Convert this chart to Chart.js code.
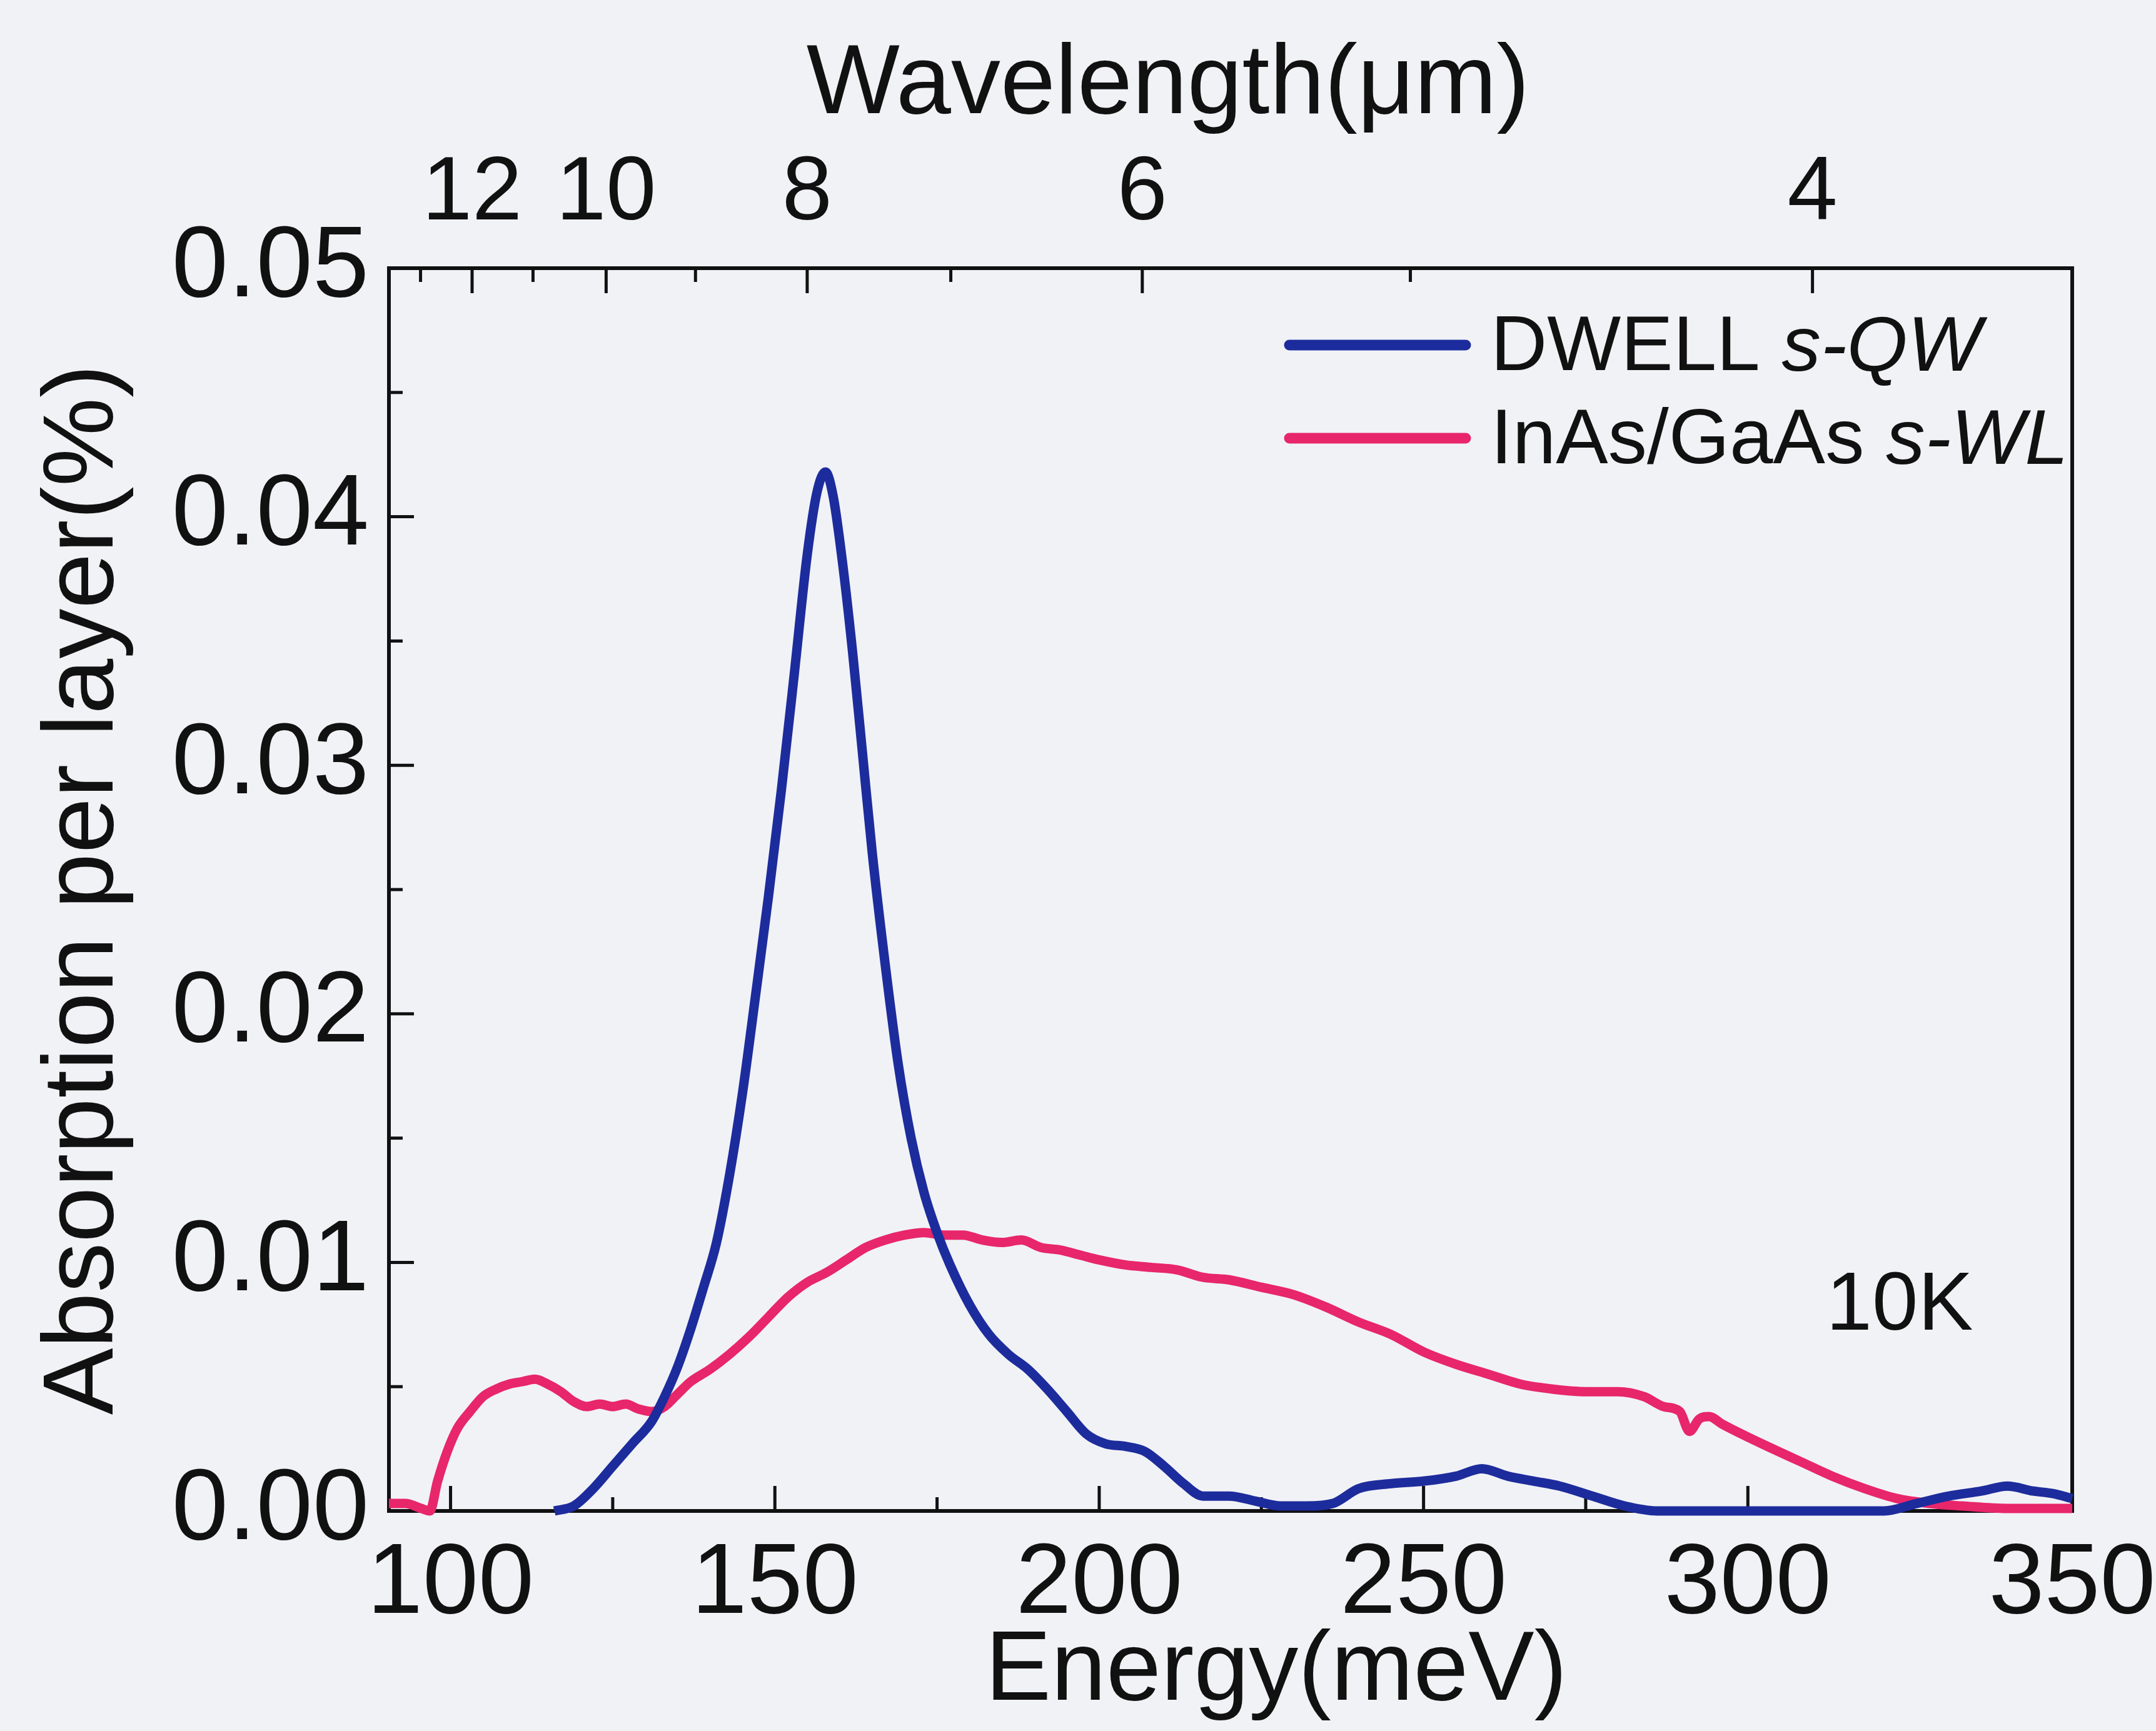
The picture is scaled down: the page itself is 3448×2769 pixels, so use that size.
<!DOCTYPE html>
<html>
<head>
<meta charset="utf-8">
<script src="https://cdn.jsdelivr.net/npm/chart.js@4.4.0/dist/chart.umd.min.js"></script>
<style>
  html, body { margin: 0; padding: 0; background: #f1f2f6; }
  #wrap { width: 3448px; height: 2769px; }
</style>
</head>
<body>
<div id="wrap"><canvas id="absChart" width="3448" height="2769"></canvas></div>
<script>
// DWELL s-QW absorption (energy in meV, absorption per layer in %)
const dwellEnergy = [116, 119, 122, 125, 128, 131, 133, 135, 137, 139, 141, 143, 145, 147, 149, 151, 153, 155, 156.5, 157.8,
  159, 160.5, 162, 163.5, 165, 167, 169, 171, 173, 175, 177, 180, 183, 186, 189, 192, 195, 198, 201, 204,
  207, 210, 213, 216, 220, 224, 228, 232, 236, 240, 245, 250, 255, 259, 263, 267, 271, 276, 281, 286,
  295, 305, 315, 321, 326, 331, 336, 340, 344, 347, 350];
const dwellAbs = [0.0000, 0.0002, 0.0009, 0.0018, 0.0027, 0.0036, 0.0046, 0.0058, 0.0073, 0.0090, 0.0108, 0.0135, 0.0168, 0.0207, 0.0247, 0.0290, 0.0337, 0.0385, 0.0410, 0.0418,
  0.0408, 0.0380, 0.0345, 0.0305, 0.0265, 0.0220, 0.0180, 0.0150, 0.0128, 0.0112, 0.0099, 0.0083, 0.0071, 0.0063, 0.0057, 0.0049, 0.0040, 0.0031, 0.0027, 0.0026,
  0.0024, 0.0018, 0.0011, 0.0006, 0.0006, 0.0004, 0.0002, 0.0002, 0.0003, 0.0009, 0.0011, 0.0012, 0.0014, 0.0017, 0.0014, 0.0012, 0.0010, 0.0006, 0.0002, 0.0000,
  0.0000, 0.0000, 0.0000, 0.0000, 0.0003, 0.0006, 0.0008, 0.0010, 0.0008, 0.0007, 0.0005];

// InAs/GaAs s-WL absorption
const wlEnergy = [90.5, 93, 95.5, 96.8, 98, 99.5, 101, 103, 105, 107, 109, 111, 113, 115, 117, 119, 121, 123, 125, 127,
  129, 131, 133, 135, 137, 140, 143, 146, 149, 152, 155, 158, 161, 164, 167, 170, 173, 176, 179, 182,
  185, 188, 191, 194, 197, 200, 204, 208, 212, 216, 220, 225, 230, 235, 240, 245, 250, 255, 260, 265,
  270, 275, 280, 284, 287, 289.5, 291, 292.5, 294, 296, 299, 303, 308, 313, 318, 323, 328, 333, 340, 345, 350];
const wlAbs = [0.0003, 0.0003, 0.0001, 0.0000, 0.0012, 0.0024, 0.0033, 0.0040, 0.0046, 0.0049, 0.0051, 0.0052, 0.0053, 0.0051, 0.0048, 0.0044, 0.0042, 0.0043, 0.0042, 0.0043,
  0.0041, 0.0040, 0.0042, 0.0047, 0.0052, 0.0057, 0.0063, 0.0070, 0.0078, 0.0086, 0.0092, 0.0096, 0.0101, 0.0106, 0.0109, 0.0111, 0.0112, 0.0111, 0.0111, 0.0109,
  0.0108, 0.0109, 0.0106, 0.0105, 0.0103, 0.0101, 0.0099, 0.0098, 0.0097, 0.0094, 0.0093, 0.0090, 0.0087, 0.0082, 0.0076, 0.0071, 0.0064, 0.0059, 0.0055, 0.0051,
  0.0049, 0.0048, 0.0048, 0.0046, 0.0042, 0.0040, 0.0032, 0.0037, 0.0038, 0.0035, 0.0031, 0.0026, 0.0020, 0.0014, 0.0009, 0.0005, 0.0003, 0.0002, 0.0001, 0.0001, 0.0001];

const seriesNames = ['DWELL ', 'InAs/GaAs '];
const seriesTags = ['s-QW', 's-WL'];
const seriesColors = ['#1d2c9c', '#e8266a'];

const energyTicks = [100, 150, 200, 250, 300, 350];
const energyMinorTicks = [125, 175, 225, 275, 325];
const absTicks = [0, 0.01, 0.02, 0.03, 0.04, 0.05];
const absMinorTicks = [0.005, 0.015, 0.025, 0.035, 0.045];
const wavelengthTicks = [12, 10, 8, 6, 4];
const wavelengthMinorTicks = [13, 11, 9, 7, 5];
const tempLabel = '10K';
const energyTitle = 'Energy(meV)';
const wavelengthTitle = 'Wavelength(μm)';

const HC = 1239.84; // meV * um
const FONT = "'Liberation Sans', Arial, sans-serif";

const pageBackground = {
  id: 'pageBackground',
  beforeDraw(chart) {
    const ctx = chart.ctx;
    ctx.save();
    ctx.fillStyle = '#f1f2f6';
    ctx.fillRect(0, 0, chart.width, chart.height);
    ctx.restore();
  }
};

// frame + inward tick marks on left, bottom and top
const frameTicks = {
  id: 'frameTicks',
  beforeDatasetsDraw(chart) {
    const {ctx, chartArea: a, scales} = chart;
    ctx.save();
    ctx.strokeStyle = '#111';
    ctx.lineWidth = 5;
    ctx.lineCap = 'butt';
    const tick = (x1, y1, x2, y2) => { ctx.beginPath(); ctx.moveTo(x1, y1); ctx.lineTo(x2, y2); ctx.stroke(); };
    energyTicks.forEach(v => { const x = scales.x.getPixelForValue(v); tick(x, a.bottom, x, a.bottom - 40); });
    energyMinorTicks.forEach(v => { const x = scales.x.getPixelForValue(v); tick(x, a.bottom, x, a.bottom - 22); });
    absTicks.forEach(v => { const y = scales.y.getPixelForValue(v); tick(a.left, y, a.left + 40, y); });
    absMinorTicks.forEach(v => { const y = scales.y.getPixelForValue(v); tick(a.left, y, a.left + 22, y); });
    wavelengthTicks.forEach(w => { const x = scales.x.getPixelForValue(HC / w); tick(x, a.top, x, a.top + 40); });
    wavelengthMinorTicks.forEach(w => { const x = scales.x.getPixelForValue(HC / w); tick(x, a.top, x, a.top + 22); });
    ctx.lineWidth = 6;
    ctx.strokeRect(a.left, a.top, a.right - a.left, a.bottom - a.top);
    ctx.restore();
  }
};

// legend inside the plot, the 10K note and the two x titles (placed off-centre like the original)
const annotations = {
  id: 'annotations',
  afterDraw(chart) {
    const {ctx, chartArea: a} = chart;
    const mid = (a.left + a.right) / 2;
    ctx.save();
    chart.data.datasets.forEach((ds, i) => {
      const y = a.top + 123 + i * 149;
      ctx.strokeStyle = ds.borderColor;
      ctx.lineWidth = 17;
      ctx.lineCap = 'round';
      ctx.beginPath();
      ctx.moveTo(a.right - 1252, y);
      ctx.lineTo(a.right - 970, y);
      ctx.stroke();
      ctx.fillStyle = '#111';
      ctx.textBaseline = 'middle';
      ctx.textAlign = 'left';
      let x = a.right - 930;
      ctx.font = `125px ${FONT}`;
      ctx.fillText(seriesNames[i], x, y + 6);
      x += ctx.measureText(seriesNames[i]).width;
      ctx.font = `italic 125px ${FONT}`;
      ctx.fillText(seriesTags[i], x, y + 6);
    });
    ctx.fillStyle = '#111';
    ctx.textAlign = 'center';
    ctx.textBaseline = 'middle';
    ctx.font = `132px ${FONT}`;
    ctx.fillText(tempLabel, a.right - 276, a.bottom - 326);
    ctx.font = `158px ${FONT}`;
    ctx.fillText(energyTitle, mid + 73, a.bottom + 258);
    ctx.fillText(wavelengthTitle, mid - 100, a.top - 292);
    ctx.restore();
  }
};

const makeSeries = (xs, ys) => xs.map((x, i) => ({x: x, y: ys[i]}));

new Chart(document.getElementById('absChart'), {
  type: 'line',
  data: {
    datasets: [
      {
        label: seriesNames[0] + seriesTags[0],
        data: makeSeries(dwellEnergy, dwellAbs),
        borderColor: seriesColors[0],
        borderWidth: 15,
        pointRadius: 0,
        cubicInterpolationMode: 'monotone',
        clip: false
      },
      {
        label: seriesNames[1] + seriesTags[1],
        data: makeSeries(wlEnergy, wlAbs),
        borderColor: seriesColors[1],
        borderWidth: 15,
        pointRadius: 0,
        cubicInterpolationMode: 'monotone',
        clip: false
      }
    ]
  },
  options: {
    responsive: false,
    animation: false,
    devicePixelRatio: 1,
    layout: { padding: { left: 0, right: 134, top: 0, bottom: 0 } },
    plugins: { legend: { display: false }, tooltip: { enabled: false } },
    scales: {
      x: {
        type: 'linear',
        position: 'bottom',
        min: 90.5,
        max: 350,
        grid: { display: false },
        border: { display: false },
        afterBuildTicks: scale => { scale.ticks = energyTicks.map(v => ({value: v})); },
        afterFit: scale => { scale.height = 352; scale.paddingLeft = 0; scale.paddingRight = 0; },
        ticks: {
          color: '#111',
          padding: 31,
          maxRotation: 0,
          autoSkip: false,
          font: { family: FONT, size: 160, lineHeight: 1 }
        }
      },
      x2: {
        type: 'linear',
        position: 'top',
        min: 90.5,
        max: 350,
        grid: { display: false },
        border: { display: false },
        afterBuildTicks: scale => { scale.ticks = wavelengthTicks.map(w => ({value: HC / w})); },
        afterFit: scale => { scale.height = 429; scale.paddingLeft = 0; scale.paddingRight = 0; },
        ticks: {
          color: '#111',
          padding: 38,
          maxRotation: 0,
          autoSkip: false,
          font: { family: FONT, size: 144, lineHeight: 1 },
          callback: v => String(Math.round(HC / v))
        }
      },
      y: {
        type: 'linear',
        position: 'left',
        min: 0,
        max: 0.05,
        grid: { display: false },
        border: { display: false },
        afterBuildTicks: scale => { scale.ticks = absTicks.map(v => ({value: v})); },
        afterFit: scale => { scale.width = 622; scale.paddingTop = 0; scale.paddingBottom = 0; },
        ticks: {
          color: '#111',
          padding: 24,
          font: { family: FONT, size: 162, lineHeight: 1 },
          callback: v => Number(v).toFixed(2)
        },
        title: {
          display: true,
          text: 'Absorption per layer(%)',
          color: '#111',
          padding: { top: 40, bottom: 0 },
          font: { family: FONT, size: 160, lineHeight: 1.2 }
        }
      }
    }
  },
  plugins: [pageBackground, frameTicks, annotations]
});
</script>
</body>
</html>
